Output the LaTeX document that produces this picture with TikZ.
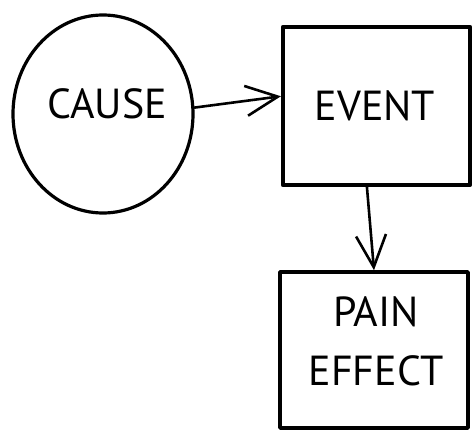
\documentclass[tikz,border=0pt]{standalone}
\usepackage{fontspec}
\setmainfont{PT Sans}
\usetikzlibrary{shapes.geometric,arrows.meta,calc}
\tikzset{
  sketchfont/.style={font=\fontsize{42}{59}\selectfont},
  lbl/.style={sketchfont, inner sep=0pt, align=center},
  circ/.style={ellipse, draw, line width=3.2pt, minimum width=180pt, minimum height=198pt, inner sep=0pt},
  box/.style={rectangle, draw, line width=4.2pt, line join=round, inner sep=0pt},
  arr/.style={line width=2.6pt, line cap=round, -{Straight Barb[length=32pt,width=30pt,line width=2.6pt]}},
}
\begin{document}
\begin{tikzpicture}[x=1pt,y=-1pt]
\useasboundingbox (0,0) rectangle (472,433);
\node[circ] (cause) at (103,114) {};
\node[lbl] (causetext) at (107,104) {CAUSE};
\node[box, minimum width=187pt, minimum height=158pt] (event) at (376.5,106) {};
\node[lbl] (eventtext) at (375,106) {EVENT};
\node[box, line width=3.6pt, minimum width=188pt, minimum height=156pt] (pain) at (374,350) {};
\node[lbl] (paintext) at (376,341) {PAIN\\EFFECT};
\draw[arr] (cause.4) -- ($(event.north west)!0.44!(event.south west)$);
\draw[arr] ($(event.south west)!0.45!(event.south east)$) -- (pain.north);
\end{tikzpicture}
\end{document}
